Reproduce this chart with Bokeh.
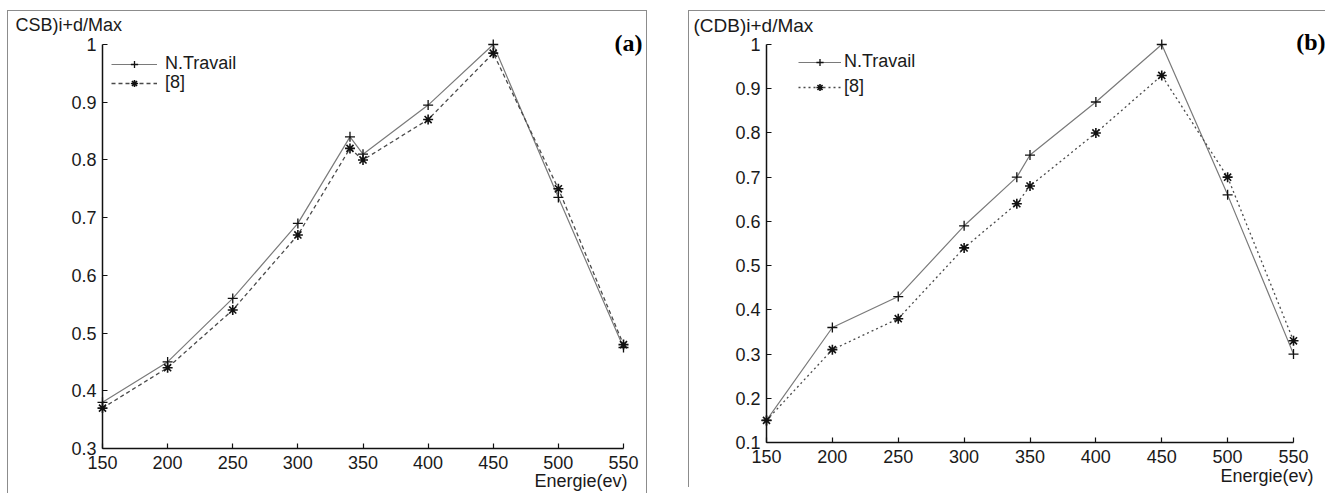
from bokeh.plotting import figure
from bokeh.models import Legend, LegendItem, FixedTicker, Spacer
from bokeh.layouts import row, column
from bokeh.embed import file_html
from bokeh.resources import INLINE
from bokeh.core.properties import value

# ---------------- data ----------------
energie = [150, 200, 250, 300, 340, 350, 400, 450, 500, 550]

csb_travail = [0.38, 0.45, 0.56, 0.69, 0.84, 0.81, 0.895, 1.0, 0.735, 0.475]
csb_ref8 = [0.37, 0.44, 0.54, 0.67, 0.82, 0.80, 0.87, 0.985, 0.75, 0.48]

cdb_travail = [0.15, 0.36, 0.43, 0.59, 0.70, 0.75, 0.87, 1.0, 0.66, 0.30]
cdb_ref8 = [0.15, 0.31, 0.38, 0.54, 0.64, 0.68, 0.80, 0.93, 0.70, 0.33]

x_ticks = [150, 200, 250, 300, 350, 400, 450, 500, 550]
y_ticks_a = [0.3, 0.4, 0.5, 0.6, 0.7, 0.8, 0.9, 1.0]
y_labels_a = ["0.3", "0.4", "0.5", "0.6", "0.7", "0.8", "0.9", "1"]
y_ticks_b = [0.1, 0.2, 0.3, 0.4, 0.5, 0.6, 0.7, 0.8, 0.9, 1.0]
y_labels_b = ["0.1", "0.2", "0.3", "0.4", "0.5", "0.6", "0.7", "0.8", "0.9", "1"]

series_names = ["N.Travail", "[8]"]
y_titles = ["CSB)i+d/Max", "(CDB)i+d/Max"]
panel_tags = ["(a)", "(b)"]
x_title = "Energie(ev)"

SANS = "Liberation Sans"
SERIF = "Liberation Serif"
TXT = "#1a1a1a"


def make_panel(ys1, ys2, yticks, ylabels, ytitle, tag, dash, cfg):
    p = figure(width=cfg["w"], height=cfg["h"], output_backend="svg", toolbar_location=None,
               x_range=(150, 550), y_range=(yticks[0], yticks[-1]),
               min_border_left=cfg["bl"], min_border_right=cfg["br"],
               min_border_top=33, min_border_bottom=46,
               title=None)
    p.styles = cfg["css"]
    p.outline_line_color = None
    p.xgrid.visible = False
    p.ygrid.visible = False
    p.background_fill_color = "white"
    p.border_fill_color = "white"

    for ax in (p.xaxis[0], p.yaxis[0]):
        ax.axis_line_color = "#111111"
        ax.axis_line_width = 1.5
        ax.major_tick_line_color = "#111111"
        ax.major_tick_line_width = 1.2
        ax.major_tick_in = 5
        ax.major_tick_out = 0
        ax.minor_tick_line_color = None
        ax.major_label_text_font = SANS
        ax.major_label_text_font_size = "18px"
        ax.major_label_text_color = TXT
    p.xaxis.ticker = FixedTicker(ticks=x_ticks)
    p.yaxis.ticker = FixedTicker(ticks=yticks)
    p.yaxis.major_label_overrides = {t: s for t, s in zip(yticks, ylabels)}
    p.xaxis.major_label_standoff = 7
    p.yaxis.major_label_standoff = 6

    l1 = p.line(energie, ys1, line_color="#7a7a7a", line_width=1.2)
    s1 = p.scatter(energie, ys1, marker="cross", size=10, line_color="#111111",
                   line_width=1.3, level="overlay")
    l2 = p.line(energie, ys2, line_color="#4a4a4a", line_width=1.3, line_dash=dash)
    s2 = p.scatter(energie, ys2, marker="asterisk", size=10, line_color="#111111",
                   line_width=1.6, level="overlay")

    for item, loc in ((LegendItem(label=series_names[0], renderers=[l1, s1]), cfg["leg1"]),
                      (LegendItem(label=series_names[1], renderers=[l2, s2]), cfg["leg2"])):
        lg = Legend(items=[item], location=loc, padding=0, margin=0, spacing=0,
                    glyph_width=cfg["gw"], glyph_height=18, label_height=18,
                    label_standoff=cfg["ls"],
                    label_text_font=SANS, label_text_font_size="18px",
                    label_text_color=TXT,
                    background_fill_alpha=0, border_line_color=None)
        p.add_layout(lg)

    # texts outside the frame (overlay level is not clipped)
    p.text(x=[150], y=[yticks[-1]], text=[ytitle], x_offset=cfg["tx"], y_offset=cfg["ty"],
           text_font=value(SANS), text_font_size=cfg["tfs"], text_color=TXT,
           text_align="left", text_baseline="middle", level="overlay")
    p.text(x=[550], y=[yticks[-1]], text=[tag], x_offset=cfg["gx"], y_offset=cfg["gy"],
           text_font=value(SERIF), text_font_size="24px", text_font_style="bold",
           text_color="#000000", text_align="right", text_baseline="middle", level="overlay")
    p.text(x=[550], y=[yticks[0]], text=[x_title], x_offset=cfg["ex"], y_offset=cfg["ey"],
           text_font=value(SANS), text_font_size="18px", text_color=TXT,
           text_align="right", text_baseline="middle", level="overlay")
    return p


pa = make_panel(csb_travail, csb_ref8, y_ticks_a, y_labels_a, y_titles[0], panel_tags[0], "4 3",
                dict(w=640, h=483, bl=94, br=25,
                     css={"border": "1px solid #8c8c8c", "border-bottom": "none"},
                     leg1=(9, 374), leg2=(9, 355), gw=46, ls=8, tfs="18px",
                     tx=-87, ty=-20, gx=19, gy=-2, ex=4, ey=32))
pb = make_panel(cdb_travail, cdb_ref8, y_ticks_b, y_labels_b, y_titles[1], panel_tags[1], "2 3",
                dict(w=637, h=477, bl=77, br=33,
                     css={"border": "1px solid #8c8c8c", "border-bottom": "none",
                          "border-right": "none"},
                     leg1=(32, 370), leg2=(32, 345), gw=43, ls=3, tfs="19px",
                     tx=-73, ty=-19, gx=32, gy=-3, ex=20, ey=33))

layout = column(Spacer(height=10),
                row(Spacer(width=7), pa, Spacer(width=41), pb))
open("out.html", "w").write(file_html(layout, INLINE))
